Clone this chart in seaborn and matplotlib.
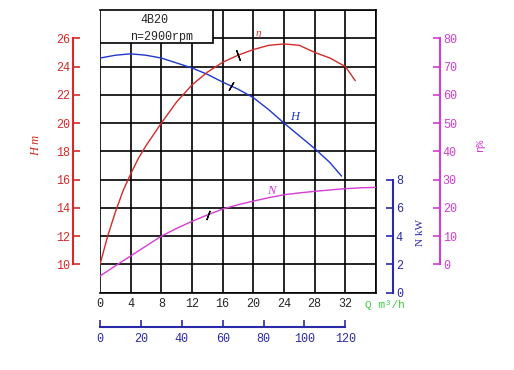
import numpy as np
import pandas as pd
import matplotlib
matplotlib.use("Agg")
import matplotlib.pyplot as plt
import seaborn as sns
from matplotlib.patches import Rectangle

# pump curves (n = 2900 rpm)
q_eta = [0, 1, 2, 3, 4, 5, 6, 8, 10, 12, 14, 16, 18, 20, 22, 24, 26, 28, 30, 32, 33.3]
eta = [0, 10, 18.5, 26, 32, 37.5, 42, 50, 57.5, 63.5, 68, 71.5, 74, 76, 77.5, 78, 77.5, 75, 73, 70, 65]

q_head = [0, 2, 4, 6, 8, 10, 12, 14, 16, 18, 20, 22, 24, 26, 28, 30, 31.5]
head = [24.6, 24.8, 24.9, 24.8, 24.6, 24.25, 23.9, 23.45, 22.9, 22.4, 21.8, 20.95, 20.0, 19.1, 18.2, 17.2, 16.25]

q_power = [0, 2, 4, 6, 8, 10, 12, 14, 16, 18, 20, 22, 24, 26, 28, 30, 32, 34, 36]
power = [1.18, 1.9, 2.6, 3.3, 4.0, 4.55, 5.05, 5.5, 5.92, 6.22, 6.48, 6.72, 6.93, 7.06, 7.17, 7.27, 7.36, 7.42, 7.45]

# small marks on each curve (operating range)
tick_q_eta = 18
tick_q_head = 17.1
tick_q_power = 14.1

q_ticks = [0, 4, 8, 12, 16, 20, 24, 28, 32]
h_ticks = [10, 12, 14, 16, 18, 20, 22, 24, 26]
n_ticks = [0, 2, 4, 6, 8]
eta_ticks = [0, 10, 20, 30, 40, 50, 60, 70, 80]
q2_ticks = [0, 20, 40, 60, 80, 100, 120]

df_eta = pd.DataFrame({"Q": q_eta, "eta": eta})
df_head = pd.DataFrame({"Q": q_head, "H": head})
df_power = pd.DataFrame({"Q": q_power, "N": power})

sns.set_style("white")
plt.rcParams["font.family"] = ["Liberation Mono", "DejaVu Sans"]
plt.rcParams["font.size"] = 8

RED = "#d42a2a"
BLUE = "#2a2aa8"
CURVE_BLUE = "#2038c8"
MAG = "#d43cd4"
GREEN = "#3ccc3c"

fig = plt.figure(figsize=(5.14, 3.70), dpi=100)
ax = fig.add_axes([100 / 514, 1 - 292.7 / 370, 276 / 514, 282.7 / 370])

# grid frame
ax.set_xlim(0, 36)
ax.set_ylim(8, 28)
ax.set_xticks(list(range(0, 37, 4)))
ax.set_xticklabels([str(v) for v in q_ticks] + [""])
ax.set_yticks(list(range(8, 29, 2)))
ax.set_yticklabels([])
ax.tick_params(axis="both", length=0, pad=4, labelsize=8.5)
ax.grid(True, color="black", linewidth=1.2)
ax.set_axisbelow(True)
for s in ["top", "right", "bottom"]:
    ax.spines[s].set_color("black")
    ax.spines[s].set_linewidth(1.2)
ax.spines["left"].set_visible(False)

# title box
ax.add_patch(Rectangle((0, 25.65), 14.8, 2.35, facecolor="white", edgecolor="black",
                       linewidth=1.2, zorder=3))
ax.text(7.1, 27.3, "4B20", ha="center", va="center", fontsize=8.5, zorder=4)
ax.text(8.0, 26.1, "n=2900rpm", ha="center", va="center", fontsize=8.5, zorder=4)

# H axis (red, left)
axH = ax.twinx()
axH.set_ylim(8, 28)
axH.yaxis.set_label_position("left")
axH.yaxis.set_ticks_position("left")
axH.spines["left"].set_position(("outward", 27 * 0.72))
axH.spines["left"].set_bounds(10, 26)
axH.spines["left"].set_color(RED)
axH.spines["left"].set_linewidth(1.5)
for s in ["top", "right", "bottom"]:
    axH.spines[s].set_visible(False)
axH.set_yticks(h_ticks)
axH.tick_params(axis="y", direction="in", length=5, width=1.2, color=RED,
                labelcolor=RED, labelsize=8.5, pad=2)

# N axis (blue, right)
axN = ax.twinx()
axN.set_ylim(0, 20)
axN.spines["right"].set_position(("outward", 17 * 0.72))
axN.spines["right"].set_bounds(0, 8)
axN.spines["right"].set_color(BLUE)
axN.spines["right"].set_linewidth(1.5)
for s in ["top", "left", "bottom"]:
    axN.spines[s].set_visible(False)
axN.set_yticks(n_ticks)
axN.tick_params(axis="y", direction="in", length=5, width=1.2, color=BLUE,
                labelcolor=BLUE, labelsize=8.5, pad=2)

# eta axis (magenta, far right)
axE = ax.twinx()
axE.set_ylim(-10, 90)
axE.spines["right"].set_position(("outward", 64 * 0.72))
axE.spines["right"].set_bounds(0, 80)
axE.spines["right"].set_color(MAG)
axE.spines["right"].set_linewidth(1.5)
for s in ["top", "left", "bottom"]:
    axE.spines[s].set_visible(False)
axE.set_yticks(eta_ticks)
axE.tick_params(axis="y", direction="in", length=5, width=1.2, color=MAG,
                labelcolor=MAG, labelsize=8.5, pad=2)

# curves
sns.lineplot(data=df_eta, x="Q", y="eta", ax=axE, color=RED, linewidth=1.0)
sns.lineplot(data=df_head, x="Q", y="H", ax=axH, color=CURVE_BLUE, linewidth=1.0)
sns.lineplot(data=df_power, x="Q", y="N", ax=axN, color=MAG, linewidth=1.0)
for a in (axE, axH, axN):
    a.set_xlabel("")
axH.set_ylabel("H m", color=RED, fontsize=9, family="Liberation Serif", style="italic")
axE.set_ylabel("η%", color=MAG, fontsize=8, rotation=90)
axN.set_ylabel("N kW", color=BLUE, fontsize=8, family="Liberation Serif", rotation=90)
axN.yaxis.set_label_coords((416 - 100) / 276, (292.7 - 232) / 282.7)
axE.yaxis.set_label_coords((475 - 100) / 276, (292.7 - 145) / 282.7)
axH.yaxis.set_label_coords(-(100 - 42) / 276, (292.7 - 145) / 282.7)

axE.plot(tick_q_eta, np.interp(tick_q_eta, q_eta, eta), marker=(2, 2, 20),
         color="black", markersize=8, markeredgewidth=0.9)
axH.plot(tick_q_head, np.interp(tick_q_head, q_head, head), marker=(2, 2, -30),
         color="black", markersize=7, markeredgewidth=0.9)
axN.plot(tick_q_power, np.interp(tick_q_power, q_power, power), marker=(2, 2, -20),
         color="black", markersize=7, markeredgewidth=0.9)

# curve names
ax.text(20.6, 26.35, "η", color=RED, fontsize=8, family="Liberation Serif",
        style="italic", ha="center", va="center")
ax.text(25.4, 20.4, "H", color=CURVE_BLUE, fontsize=9, family="Liberation Serif",
        style="italic", ha="center", va="center")
ax.text(22.4, 15.2, "N", color=MAG, fontsize=9, family="Liberation Serif",
        style="italic", ha="center", va="center")

for a in (ax, axH, axN, axE):
    a.set_xlim(0, 36)

# second flow scale underneath
sec = ax.secondary_xaxis(-34.3 / 282.7, functions=(lambda q: q * 3.75, lambda v: v / 3.75))
sec.set_xticks(q2_ticks)
sec.spines["bottom"].set_bounds(0, 120)
sec.spines["bottom"].set_color(BLUE)
sec.spines["bottom"].set_linewidth(1.5)
sec.tick_params(axis="x", direction="in", length=5, width=1.2, color=BLUE,
                labelcolor=BLUE, labelsize=8.5, pad=4)

fig.text(365 / 514, 1 - 305 / 370, "Q m³/h", color=GREEN, fontsize=8, va="center")

fig.savefig("out.png", dpi=100)
